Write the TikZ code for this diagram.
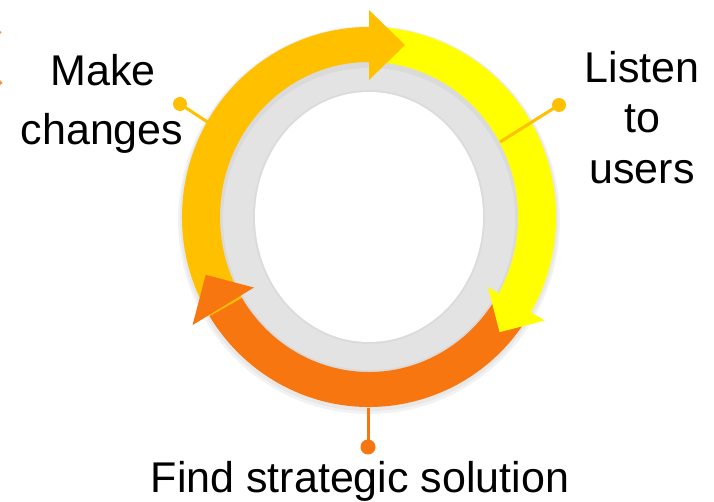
\documentclass[tikz,border=0pt]{standalone}
\usepackage{fontspec}
\setmainfont{Liberation Sans}
\usetikzlibrary{calc}
\definecolor{cgold}{HTML}{FFC000}
\definecolor{cyel}{HTML}{FFFF00}
\definecolor{corange}{HTML}{F8760F}
\definecolor{cgray}{HTML}{E3E3E3}
\begin{document}
\begin{tikzpicture}[x=1pt,y=1pt,
  lbl/.style={font=\fontsize{43}{50}\selectfont, inner sep=0pt, anchor=base, text=black},
  pinline/.style={line width=3pt},
  pindot/.style={circle, inner sep=0pt, minimum size=14pt}]
\useasboundingbox (0,0) rectangle (714,502);
\fill[white] (0,0) rectangle (714,502);
\coordinate (C) at (369,285);
% soft shadow
\fill[black, opacity=0.05] ($(C)+(0,-3)$) ellipse [x radius=191, y radius=194];
\fill[black, opacity=0.04] ($(C)+(0,-2)$) ellipse [x radius=189, y radius=192];
% gray ring
\fill[cgray] (C) ellipse [x radius=150, y radius=156];
\fill[black, opacity=0.04] (C) ellipse [x radius=150, y radius=156];
\fill[cgray] ($(C)+(0,-2)$) ellipse [x radius=146, y radius=151];
\fill[black, opacity=0.03] (C) ellipse [x radius=116, y radius=127];
\fill[white] (C) ellipse [x radius=114, y radius=125];
% bands
\fill[cgold] ($(C)+(211.5:187 and 190)$) arc[start angle=211.5, end angle=90, x radius=187, y radius=190]
  -- ($(C)+(90:149 and 155)$) arc[start angle=90, end angle=211.5, x radius=149, y radius=155] -- cycle;
\fill[cyel] ($(C)+(90:187 and 190)$) arc[start angle=90, end angle=-30.5, x radius=187, y radius=190]
  -- ($(C)+(-30.5:149 and 155)$) arc[start angle=-30.5, end angle=90, x radius=149, y radius=155] -- cycle;
\fill[corange] ($(C)+(-30.5:187 and 190)$) arc[start angle=-30.5, end angle=-148.5, x radius=187, y radius=190]
  -- ($(C)+(-148.5:149 and 155)$) arc[start angle=-148.5, end angle=-30.5, x radius=149, y radius=155] -- cycle;
% heads
\coordinate (hg) at ($(C)+(90:172)$);
\coordinate (hy) at ($(C)+(-30.5:171)$);
\coordinate (ho) at ($(C)+(211.5:171)$);
\fill[cgold] ($(hg)+(90:35)$) -- ($(hg)+(270:35)$) -- ($(hg)+(0:36)$) -- cycle;
\fill[cyel] ($(hy)+(-30.5:33)$) -- ($(hy)+(149.5:33)$) -- ($(hy)+(-120.5:33)$) -- cycle;
\fill[corange] ($(ho)+(211.5:36)$) -- ($(ho)+(31.5:36)$) -- ($(ho)+(119:36)$) -- cycle;
% pins
\coordinate (pm) at (238,360);
\node[pindot, fill=cgold] (dm) at (180,398) {};
\draw[pinline, cgold] (dm.center) -- (pm);
\coordinate (pl) at (500,360);
\node[pindot, fill=cgold] (dl) at (559,397) {};
\draw[pinline, cgold] (dl.center) -- (pl);
\coordinate (pf) at (368,94);
\node[pindot, fill=corange, minimum size=15pt] (df) at (368,55) {};
\draw[pinline, corange] (df.center) -- (pf);
% left edge fragments
\fill[corange, opacity=0.8] (0,468) -- (1.5,469.5) -- (0,471) -- cycle;
\fill[corange, opacity=0.8] (0,417) -- (2.5,419) -- (0,422) -- cycle;
% labels
\node[lbl] (mk1) at (103,416) {Make};
\node[lbl] (mk2) at (102,357) {changes};
\node[lbl] (ls1) at (642,419) {Listen};
\node[lbl] (ls2) at (642,369) {to};
\node[lbl] (ls3) at (642,318) {users};
\node[lbl] (fs) at (360,9) {Find strategic solution};
\end{tikzpicture}
\end{document}
